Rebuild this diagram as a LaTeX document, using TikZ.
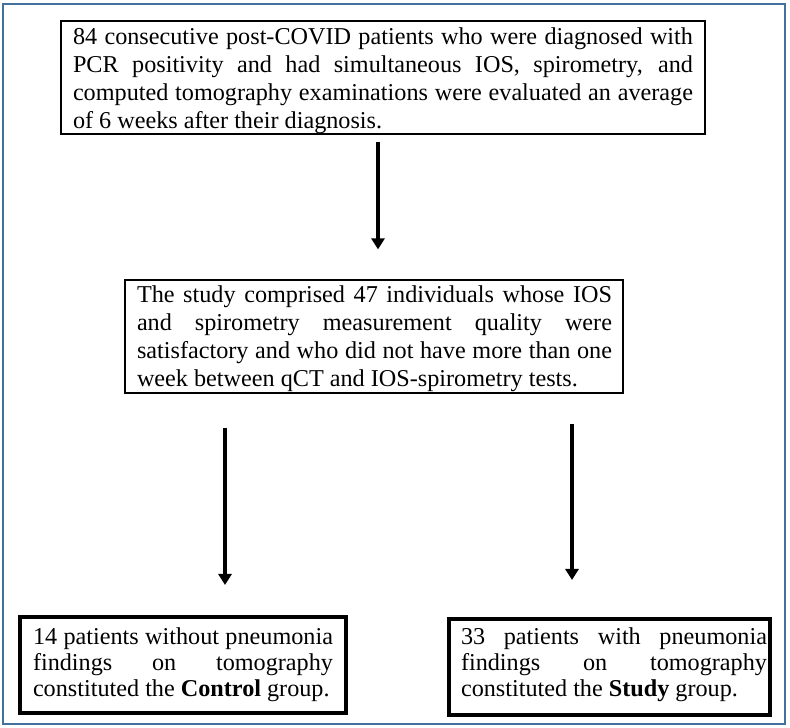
\documentclass[tikz,border=0pt]{standalone}
\usepackage{fontspec}
\setmainfont{Liberation Serif}
\usetikzlibrary{arrows.meta}
\definecolor{frameblue}{RGB}{65,113,156}
\tikzset{
  boxthin/.style={draw=black, line width=1.2pt, inner sep=0pt},
  boxthick/.style={draw=black, line width=4pt, inner sep=0pt},
  txtbig/.style={align=justify, inner sep=0pt, font=\fontsize{24.2}{28}\selectfont},
  txtsmall/.style={align=justify, inner sep=0pt, font=\fontsize{24.2}{26}\selectfont},
  arr/.style={draw=black, line width=3.8pt, -{Triangle[width=13pt,length=11pt]}}
}
\begin{document}
\begin{tikzpicture}[x=1pt,y=1pt]
\useasboundingbox (0,0) rectangle (790,728);
\draw[frameblue, line width=1.6pt] (3,4) rectangle (785,724);

% boxes
\node[boxthin, minimum width=644pt, minimum height=113pt] (b1) at (383,650.5) {};
\node[boxthin, minimum width=498pt, minimum height=113pt] (b2) at (374,391.5) {};
\node[boxthick, minimum width=326pt, minimum height=96pt] (b3) at (183,63) {};
\node[boxthick, minimum width=321pt, minimum height=96pt] (b4) at (609.5,61) {};

% texts
\node[txtbig, text width=620pt] (t1) at (383,646.6)
{\strut 84 consecutive post-COVID patients who were diagnosed with\linebreak
PCR positivity and had simultaneous IOS, spirometry, and\linebreak
computed tomography examinations were evaluated an average\linebreak
of 6 weeks after their diagnosis.\strut};

\node[txtbig, text width=475pt] (t2) at (374.5,388.6)
{\strut The study comprised 47 individuals whose IOS\linebreak
and spirometry measurement quality were\linebreak
satisfactory and who did not have more than one\linebreak
week between qCT and IOS-spirometry tests.\strut};

\node[txtsmall, text width=300pt] (t3) at (183,62.2)
{\strut 14 patients without pneumonia\linebreak
findings on tomography\linebreak
constituted the \textbf{Control} group.\strut};

\node[txtsmall, text width=306pt] (t4) at (614,62.2)
{\strut 33 patients with pneumonia\linebreak
findings on tomography\linebreak
constituted the \textbf{Study} group.\strut};

% arrows
\draw[arr] ([xshift=-5pt,yshift=-7pt]b1.south) -- ([xshift=4pt,yshift=30pt]b2.north);
\draw[arr] ([xshift=-149pt,yshift=-34pt]b2.south) -- ([xshift=42pt,yshift=30pt]b3.north);
\draw[arr] ([xshift=198pt,yshift=-30pt]b2.south) -- ([xshift=-37.5pt,yshift=37pt]b4.north);
\end{tikzpicture}
\end{document}
